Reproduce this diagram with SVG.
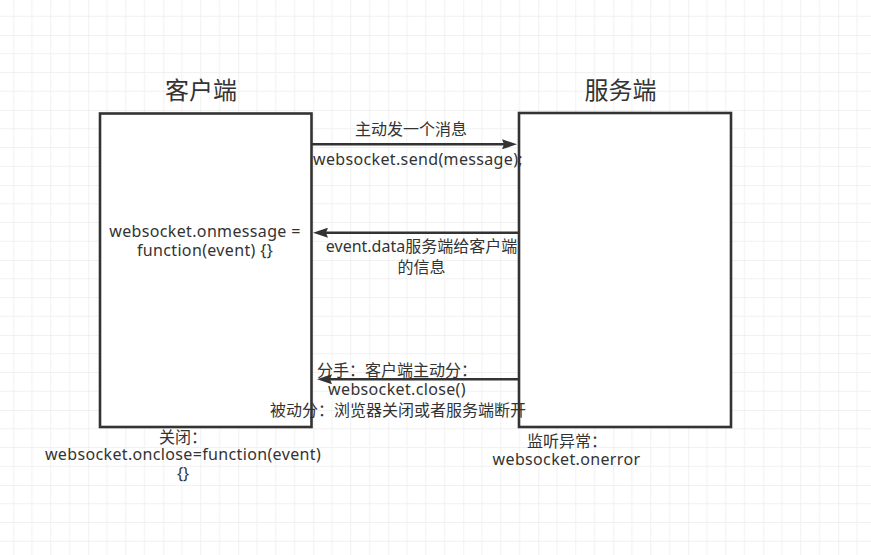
<svg xmlns="http://www.w3.org/2000/svg" width="871" height="555" viewBox="0 0 871 555">
  <defs>
    <pattern id="grid" patternUnits="userSpaceOnUse" x="13.3" y="35" width="75" height="75">
      <path d="M18.75 0V75M37.5 0V75M56.25 0V75M0 18.75H75M0 37.5H75M0 56.25H75" fill="none" stroke="#f1f1f1" stroke-width="1"/>
      <path d="M0 0V75M0 0H75" fill="none" stroke="#e4e4e4" stroke-width="1"/>
    </pattern>
    <marker id="arrow" markerUnits="userSpaceOnUse" viewBox="0 0 15 10" refX="5" refY="5" markerWidth="15" markerHeight="10" orient="auto">
      <path d="M0 0L15 5L0 10L2 5Z" fill="#333333"/>
    </marker>
  </defs>
  <style>
    .box { fill: #ffffff; stroke: #333333; stroke-width: 2.6; }
    .edge { fill: none; stroke: #333333; stroke-width: 2.6; marker-end: url(#arrow); }
    text { font-family: "Noto Sans", "Noto Sans CJK SC", sans-serif; fill: #333333; text-anchor: middle; }
    .t { font-size: 16px; }
    .l { letter-spacing: 0.35px; }
    .title { font-size: 24px; }
  </style>
  <rect width="871" height="555" fill="#ffffff"/>
  <rect width="871" height="555" fill="url(#grid)"/>

  <g id="client">
    <rect class="box" x="100" y="113.5" width="211.5" height="313.5"/>
    <text class="title" x="201" y="98.5">客户端</text>
    <text class="t l" x="205" y="237">websocket.onmessage =</text>
    <text class="t l" x="205" y="256">function(event) {}</text>
  </g>

  <g id="server">
    <rect class="box" x="519" y="113" width="212" height="314"/>
    <text class="title" x="620.5" y="98.5">服务端</text>
  </g>

  <g id="connectors">
    <line class="edge" x1="311.5" y1="144.3" x2="507" y2="144.3"/>
    <line class="edge" x1="519" y1="232.7" x2="323" y2="232.7"/>
    <line class="edge" x1="519" y1="379.3" x2="327" y2="379.3"/>
  </g>

  <g id="labels">
    <text class="t" x="411" y="135">主动发一个消息</text>
    <text class="t l" x="418" y="165">websocket.send(message);</text>
    <text class="t" x="421.5" y="252">event.data服务端给客户端</text>
    <text class="t" x="421.5" y="273">的信息</text>
    <text class="t" x="397" y="376">分手：客户端主动分：</text>
    <text class="t l" x="397" y="395">websocket.close()</text>
    <text class="t" x="398" y="416">被动分：浏览器关闭或者服务端断开</text>
  </g>

  <g id="close-label">
    <text class="t" x="183" y="442.5">关闭：</text>
    <text class="t l" x="183" y="460">websocket.onclose=function(event)</text>
    <text class="t" x="183" y="479">{}</text>
  </g>

  <g id="error-label">
    <text class="t" x="567" y="446.5">监听异常：</text>
    <text class="t l" x="566.5" y="465">websocket.onerror</text>
  </g>
</svg>
